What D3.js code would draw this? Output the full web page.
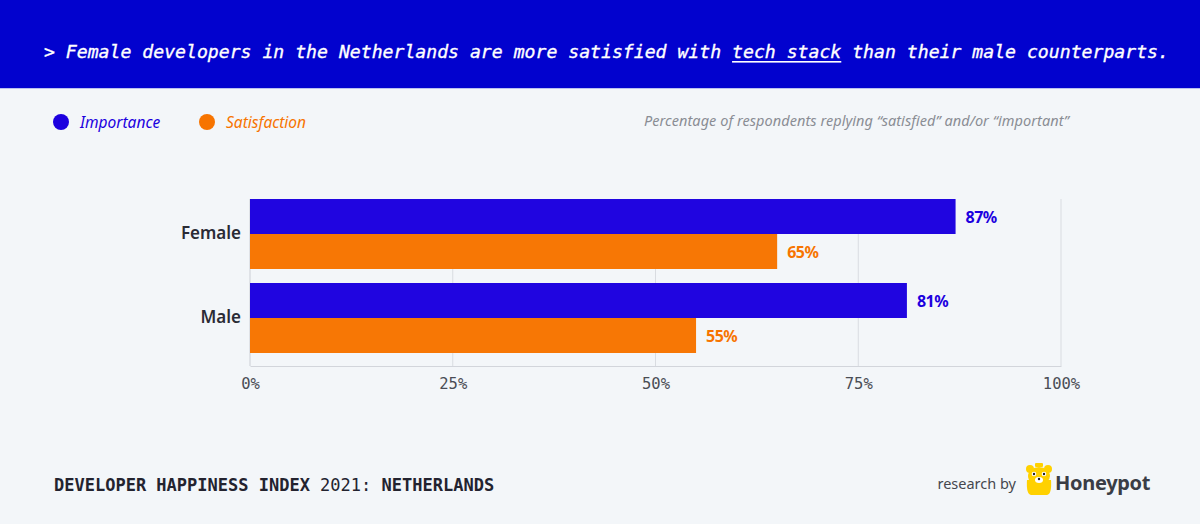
<!DOCTYPE html>
<html><head><meta charset="utf-8">
<script src="https://cdn.jsdelivr.net/npm/d3@7"></script>
<style>
html,body{margin:0;padding:0;background:#F3F6F9;}
svg{display:block;}
</style></head>
<body>
<svg id="chart" width="1200" height="524"></svg>
<script>
const categories = ["Female", "Male"];
const seriesNames = ["Importance", "Satisfaction"];
const importance = [87, 81];
const satisfaction = [65, 55];
const tickValues = [0, 25, 50, 75, 100];
const tickLabels = ["0%", "25%", "50%", "75%", "100%"];

const colors = {Importance: "#1C00DF", Satisfaction: "#F77400"};
const svg = d3.select("#chart");
const W = 1200, H = 524;

svg.append("rect").attr("width", W).attr("height", H).attr("fill", "#F3F6F9");

// Header
svg.append("rect").attr("x", 0).attr("y", 0).attr("width", W).attr("height", 88).attr("fill", "#0202CE");
svg.append("rect").attr("x", 0).attr("y", 88).attr("width", W).attr("height", 1).attr("fill", "#B9C0F0");
const title = svg.append("text").attr("x", 44).attr("y", 58)
  .attr("font-family", "'DejaVu Sans Mono', monospace").attr("font-style", "italic")
  .attr("font-size", 18.15).attr("fill", "#fff").attr("stroke", "#fff").attr("stroke-width", 0.35);
title.append("tspan").text("> Female developers in the Netherlands are more satisfied with ");
title.append("tspan").text("tech stack");
title.append("tspan").text(" than their male counterparts.");
// underline under "tech stack" measured
(function(){
  const t = title.node();
  const s = t.getStartPositionOfChar(63);
  const e = t.getEndPositionOfChar(72);
  svg.append("rect").attr("x", s.x).attr("y", 61).attr("width", e.x - s.x).attr("height", 1.6).attr("fill", "#fff");
})();

// Legend
const legend = svg.append("g");
const legendPos = [{x: 61, tx: 80}, {x: 207, tx: 226}];
seriesNames.forEach((n, i) => {
  legend.append("circle").attr("cx", legendPos[i].x).attr("cy", 122).attr("r", 8).attr("fill", colors[n]);
  legend.append("text").attr("x", legendPos[i].tx).attr("y", 127.5).text(n)
    .attr("font-family", "'Noto Sans', sans-serif").attr("font-style", "italic")
    .attr("font-size", 15.5).attr("fill", colors[n]);
});
svg.append("text").attr("x", 644).attr("y", 126)
  .text("Percentage of respondents replying \u201csatisfied\u201d and/or \u201cimportant\u201d")
  .attr("textLength", 425).attr("lengthAdjust", "spacing")
  .attr("font-family", "'Noto Sans', sans-serif").attr("font-style", "italic")
  .attr("font-size", 14.5).attr("fill", "#8A8D94");

// Scales
const x = d3.scaleLinear().domain([0, 100]).range([250, 1061]);
const y = d3.scaleBand().domain(categories).range([199, 353]).paddingInner(14 / 84).paddingOuter(0);
const ySub = d3.scaleBand().domain(seriesNames).range([0, y.bandwidth()]);
const axisY = 366;

// Grid
const grid = svg.append("g");
grid.selectAll("line.g").data(tickValues.slice(1)).join("line")
  .attr("x1", d => x(d)).attr("x2", d => x(d)).attr("y1", 199).attr("y2", axisY)
  .attr("stroke", "#D9DCE1").attr("stroke-width", 1);
grid.append("line").attr("x1", x(0)).attr("x2", x(0)).attr("y1", 199).attr("y2", axisY)
  .attr("stroke", "#D2D5DB").attr("stroke-width", 1.2);

// Bars
const data = [];
categories.forEach((c, i) => {
  data.push({cat: c, s: "Importance", v: importance[i]});
  data.push({cat: c, s: "Satisfaction", v: satisfaction[i]});
});
svg.append("g").selectAll("rect").data(data).join("rect")
  .attr("x", x(0)).attr("y", d => y(d.cat) + ySub(d.s))
  .attr("width", d => x(d.v) - x(0)).attr("height", ySub.bandwidth())
  .attr("fill", d => colors[d.s]).attr("fill-opacity", 0.98);

svg.append("g").selectAll("text").data(data).join("text")
  .attr("x", d => x(d.v) + 10).attr("y", d => y(d.cat) + ySub(d.s) + ySub.bandwidth() / 2 + 6)
  .text(d => d.v + "%")
  .attr("font-family", "'Noto Sans', sans-serif").attr("font-weight", 700)
  .attr("font-size", 16).attr("fill", d => colors[d.s]).attr("letter-spacing", -0.5);

// X axis
const xAxis = d3.axisBottom(x).tickValues(tickValues).tickFormat((d, i) => tickLabels[i]).tickSize(0).tickPadding(12);
const gx = svg.append("g").attr("transform", `translate(0,${axisY})`).call(xAxis);
gx.select(".domain").attr("stroke", "#D2D5DB").attr("stroke-width", 1.2);
gx.selectAll("text").attr("font-family", "'DejaVu Sans Mono', monospace").attr("font-size", 15.5)
  .attr("fill", "#4A4D55").attr("dy", "0.71em").attr("y", 12);

// Y axis labels
const yAxis = d3.axisLeft(y).tickSize(0).tickPadding(9);
const gy = svg.append("g").attr("transform", `translate(${x(0)},0)`).call(yAxis);
gy.select(".domain").remove();
gy.selectAll("text").attr("font-family", "'Noto Sans', sans-serif").attr("font-weight", 600)
  .attr("font-size", 17).attr("fill", "#2A2B35");

// Footer
const foot = svg.append("text").attr("x", 54).attr("y", 491)
  .attr("font-family", "'DejaVu Sans Mono', monospace").attr("font-size", 17).attr("fill", "#23232F");
foot.append("tspan").attr("font-weight", 700).text("DEVELOPER HAPPINESS INDEX ");
foot.append("tspan").attr("font-weight", 400).text("2021: ");
foot.append("tspan").attr("font-weight", 700).text("NETHERLANDS");

svg.append("text").attr("x", 1016).attr("y", 489).attr("text-anchor", "end").text("research by")
  .attr("font-family", "'Noto Sans', sans-serif").attr("font-size", 14.5).attr("fill", "#45474E");

// Bear logo
const bear = svg.append("g").attr("transform", "translate(1039,480)");
const yel = "#FFD100";
bear.append("rect").attr("x", -4).attr("y", -17).attr("width", 8).attr("height", 4).attr("rx", 1).attr("fill", yel);
bear.append("circle").attr("cx", -9).attr("cy", -11).attr("r", 4).attr("fill", yel);
bear.append("circle").attr("cx", 9).attr("cy", -11).attr("r", 4).attr("fill", yel);
bear.append("ellipse").attr("cx", 0).attr("cy", -4).attr("rx", 11).attr("ry", 9).attr("fill", yel);
bear.append("path").attr("d", "M-12,0 Q-13,14 -8,15 L8,15 Q13,14 12,0 Z").attr("fill", yel);
bear.append("circle").attr("cx", -5).attr("cy", -6).attr("r", 2.3).attr("fill", "#fff");
bear.append("circle").attr("cx", 5).attr("cy", -6).attr("r", 2.3).attr("fill", "#fff");
bear.append("circle").attr("cx", -5).attr("cy", -6).attr("r", 1.2).attr("fill", "#222");
bear.append("circle").attr("cx", 5).attr("cy", -6).attr("r", 1.2).attr("fill", "#222");
bear.append("ellipse").attr("cx", 0).attr("cy", 0).attr("rx", 4).attr("ry", 3).attr("fill", "#fff");
bear.append("circle").attr("cx", 0).attr("cy", -1).attr("r", 1.2).attr("fill", "#222");

svg.append("text").attr("x", 1055).attr("y", 490).text("Honeypot")
  .attr("font-family", "'Noto Sans', sans-serif").attr("font-weight", 700)
  .attr("font-size", 20).attr("fill", "#3A3D45").attr("letter-spacing", -0.3);
</script>
</body></html>
